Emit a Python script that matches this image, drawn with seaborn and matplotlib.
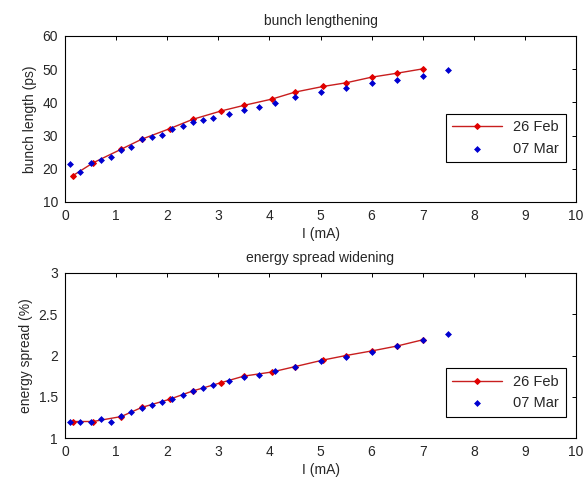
import numpy as np
import pandas as pd
import matplotlib
matplotlib.use("Agg")
import matplotlib.pyplot as plt
import seaborn as sns

# 26 Feb data
feb_I = [0.15, 0.55, 1.1, 1.5, 2.05, 2.5, 3.05, 3.5, 4.05, 4.5, 5.05, 5.5, 6.0, 6.5, 7.0]
feb_len = [17.9, 21.8, 25.9, 28.9, 32.1, 34.9, 37.4, 39.1, 41.0, 43.1, 44.8, 45.9, 47.6, 48.8, 50.1]
feb_spread = [1.20, 1.20, 1.26, 1.37, 1.47, 1.57, 1.67, 1.75, 1.80, 1.865, 1.945, 2.00, 2.055, 2.115, 2.19]

# 07 Mar data
mar_I = [0.1, 0.3, 0.5, 0.7, 0.9, 1.1, 1.3, 1.5, 1.7, 1.9, 2.1, 2.3, 2.5, 2.7, 2.9,
         3.2, 3.5, 3.8, 4.1, 4.5, 5.0, 5.5, 6.0, 6.5, 7.0, 7.5]
mar_len = [21.4, 18.9, 21.7, 22.6, 23.6, 25.7, 26.7, 28.9, 29.6, 30.3, 32.0, 32.8, 34.2, 34.6, 35.3,
           36.6, 37.7, 38.7, 39.8, 41.5, 43.0, 44.3, 45.8, 46.8, 47.9, 49.7]
mar_spread = [1.20, 1.20, 1.20, 1.226, 1.20, 1.27, 1.315, 1.364, 1.40, 1.436, 1.469, 1.525, 1.57, 1.61, 1.642,
              1.687, 1.74, 1.767, 1.812, 1.857, 1.937, 1.978, 2.046, 2.115, 2.19, 2.264]

titles = ["bunch lengthening", "energy spread widening"]
ylabels = ["bunch length (ps)", "energy spread (%)"]
xlabel = "I (mA)"
legend_labels = ["26 Feb", "07 Mar"]
xticks = list(range(0, 11))
yticks_top = [10, 20, 30, 40, 50, 60]
yticks_bot = [1, 1.5, 2, 2.5, 3]

sns.set_theme(style="white")
plt.rcParams['font.family'] = ['Liberation Sans', 'DejaVu Sans']
plt.rcParams['xtick.direction'] = 'in'
plt.rcParams['ytick.direction'] = 'in'

fig = plt.figure(figsize=(5.85, 4.78), dpi=100)
W, H = 585, 478
ax1 = fig.add_axes([65 / W, 1 - 202 / H, 511 / W, 166 / H])
ax2 = fig.add_axes([65 / W, 1 - 438 / H, 511 / W, 165 / H])

feb = pd.DataFrame({"I": feb_I, "len": feb_len, "spread": feb_spread})
mar = pd.DataFrame({"I": mar_I, "len": mar_len, "spread": mar_spread})

red_line = "#c81e1e"
red_mk = "#e00000"
blue = "#0000d0"

for ax, col, yt, title, ylab, legy in [
    (ax1, "len", yticks_top, titles[0], ylabels[0], 0.386),
    (ax2, "spread", yticks_bot, titles[1], ylabels[1], 0.276),
]:
    sns.lineplot(data=feb, x="I", y=col, ax=ax, color=red_line, linewidth=1.0,
                 marker="D", markersize=3.0, markerfacecolor=red_mk, markeredgecolor=red_mk,
                 label=legend_labels[0], sort=False)
    sns.scatterplot(data=mar, x="I", y=col, ax=ax, color=blue, marker="D", s=9,
                    edgecolor=blue, linewidth=0.5, label=legend_labels[1], zorder=3)
    ax.set_xlim(0, 10)
    ax.set_ylim(yt[0], yt[-1])
    ax.set_xticks(xticks)
    ax.set_yticks(yt)
    ax.set_yticklabels([("%g" % v) for v in yt])
    ax.tick_params(axis="both", labelsize=10, length=3, width=0.7, color="black",
                   top=True, right=True)
    ax.tick_params(axis="x", pad=5)
    ax.tick_params(axis="y", pad=5)
    ax.set_title(title, fontsize=10, pad=8)
    ax.set_ylabel(ylab, fontsize=10, labelpad=4)
    ax.set_xlabel(xlabel, fontsize=10, labelpad=3)
    for s in ax.spines.values():
        s.set_color("black")
        s.set_linewidth(0.8)
    leg = ax.legend(loc="center right", bbox_to_anchor=(0.980, legy), fontsize=10.5,
                    frameon=True, fancybox=False, edgecolor="black", framealpha=1,
                    handlelength=3.4, borderpad=0.45, labelspacing=0.5, handletextpad=0.8,
                    borderaxespad=0)
    leg.get_frame().set_linewidth(0.8)

fig.savefig("out.png", dpi=100, facecolor="white")
